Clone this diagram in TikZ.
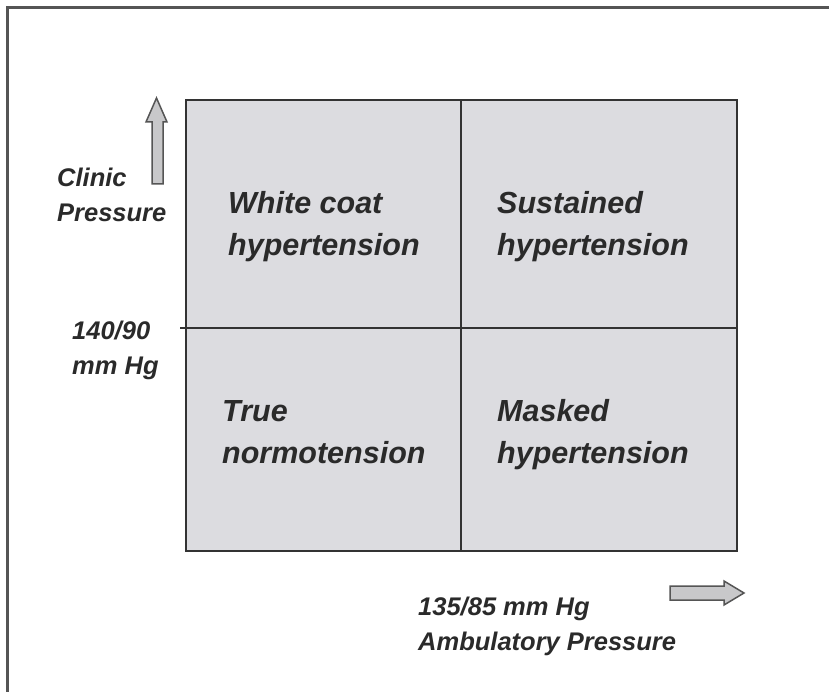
\documentclass[tikz,border=0pt]{standalone}
\usepackage{fontspec}
\setmainfont{Liberation Sans}
\definecolor{cellfill}{HTML}{DCDCE0}
\definecolor{gridline}{HTML}{333333}
\definecolor{txt}{HTML}{2A2A2A}
\definecolor{arrfill}{HTML}{C8C8CA}
\definecolor{arrline}{HTML}{555555}
\definecolor{frame}{HTML}{555555}
\tikzset{
  big/.style={anchor=base west, inner sep=0pt, align=left, text=txt,
    font=\fontsize{30.5}{42}\selectfont\bfseries\itshape},
  small/.style={anchor=base west, inner sep=0pt, align=left, text=txt,
    font=\fontsize{25.5}{35}\selectfont\bfseries\itshape},
  grid/.style={draw=gridline, line width=2.2pt},
  fatarrow/.style={draw=arrline, fill=arrfill, line width=1.5pt, line join=miter}
}
\begin{document}
\begin{tikzpicture}[x=1pt,y=-1pt]
\useasboundingbox (0,0) rectangle (829,692);
% outer frame (only top and left edges visible)
\draw[frame, line width=2.2pt] (7.5,692) -- (7.5,7.5) -- (829,7.5);
% quadrant box
\coordinate (tl) at (186,100);
\coordinate (br) at (737,551);
\coordinate (tm) at (461,100);
\coordinate (bm) at (461,551);
\coordinate (tick) at (180,328);
\coordinate (rm) at (737,328);
\fill[cellfill] (tl) rectangle (br);
\draw[grid] (tm) -- (bm);
\draw[grid] (tick) -- (rm);
\draw[grid] (tl) rectangle (br);
% arrows
\draw[fatarrow] (152,184) -- (152,122) -- (146,122) -- (156.5,98) -- (167,122) -- (163,122) -- (163,184) -- cycle;
\draw[fatarrow] (670,586) -- (724,586) -- (724,581) -- (744,593) -- (724,605) -- (724,600) -- (670,600) -- cycle;
% quadrant labels (base anchor = last line's baseline)
\node[big] (wc) at (228,256) {White coat\\hypertension};
\node[big] (sh) at (497,256) {Sustained\\hypertension};
\node[big] (tn) at (222,463) {True\\normotension};
\node[big] (mh) at (497,463) {Masked\\hypertension};
% axis labels
\node[small] (cp) at (57,222) {Clinic\\Pressure};
\node[small] (cv) at (72,374) {140/90\\mm Hg};
\node[small] (ap) at (418,650) {135/85 mm Hg\\Ambulatory Pressure};
\end{tikzpicture}
\end{document}
